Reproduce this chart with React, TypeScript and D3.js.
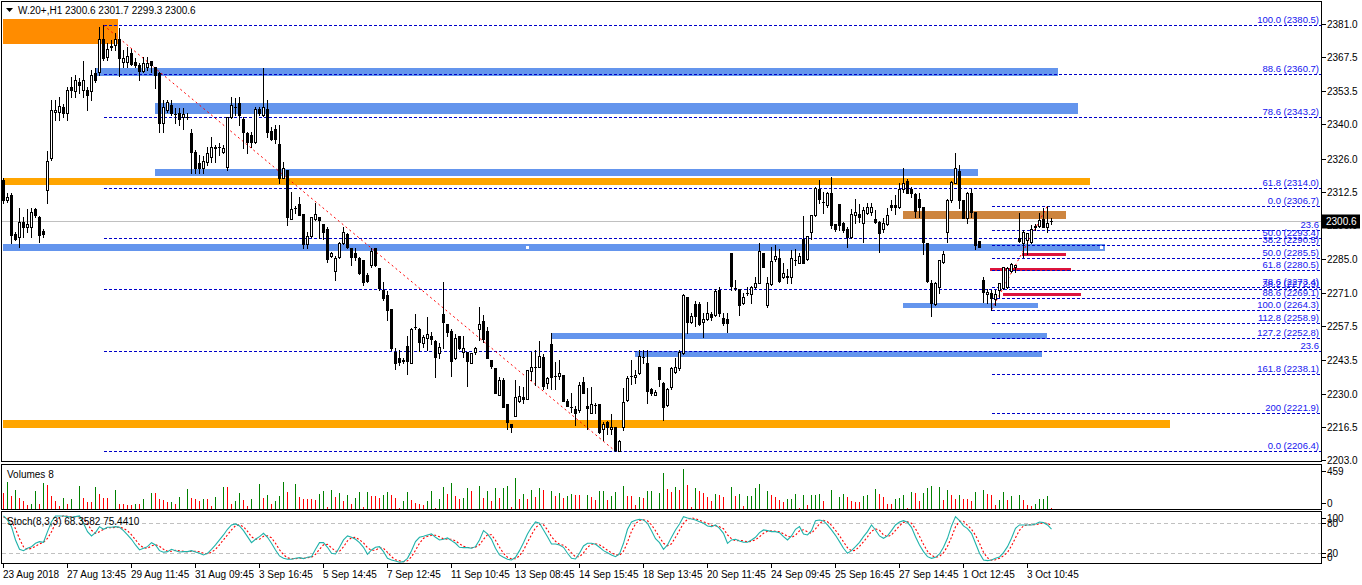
import React, { useEffect, useRef } from 'react';
import * as d3 from 'd3';

const WIDTH = 1362;
const HEIGHT = 585;

// hourly candles, [open, high, low, close]
const candles: [number, number, number, number][] = [
  [2317.2, 2318.1, 2307.8, 2309.1], [2309.1, 2311.9, 2308.2, 2310.3], [2311.1, 2311.9, 2291.5, 2294.8], [2295.2, 2296.0, 2292.7, 2293.1],
  [2294.0, 2305.8, 2289.9, 2300.1], [2300.1, 2302.1, 2294.0, 2298.0], [2298.0, 2305.4, 2296.0, 2299.3], [2298.0, 2305.8, 2294.0, 2304.2],
  [2305.4, 2305.8, 2302.1, 2302.9], [2302.1, 2302.5, 2291.9, 2294.8], [2296.4, 2297.2, 2294.0, 2295.2], [2313.1, 2329.1, 2307.8, 2325.0],
  [2326.2, 2349.9, 2325.4, 2345.8], [2345.0, 2349.9, 2341.8, 2345.8], [2345.0, 2351.2, 2341.8, 2347.5], [2347.1, 2348.3, 2343.0, 2344.6],
  [2344.6, 2355.2, 2341.8, 2354.0], [2355.2, 2359.3, 2351.2, 2354.0], [2353.6, 2360.1, 2351.2, 2358.1], [2357.3, 2358.9, 2352.8, 2356.1],
  [2354.0, 2365.9, 2351.2, 2358.1], [2354.0, 2355.2, 2345.8, 2352.0], [2353.6, 2362.2, 2349.9, 2360.1], [2361.0, 2363.0, 2357.3, 2358.1],
  [2361.4, 2379.8, 2360.1, 2374.9], [2374.9, 2380.5, 2366.3, 2367.1], [2367.5, 2373.2, 2366.3, 2370.8], [2371.6, 2374.5, 2370.4, 2372.0],
  [2372.4, 2377.3, 2370.4, 2374.9], [2374.9, 2379.4, 2359.7, 2367.1], [2365.5, 2370.4, 2363.4, 2367.1], [2365.5, 2371.6, 2363.4, 2367.9],
  [2369.1, 2370.8, 2364.2, 2364.6], [2365.5, 2367.1, 2363.4, 2364.2], [2364.2, 2365.1, 2358.1, 2361.8], [2361.8, 2367.5, 2361.4, 2365.1],
  [2363.4, 2367.5, 2362.2, 2365.1], [2365.9, 2365.9, 2361.4, 2364.2], [2363.4, 2363.4, 2354.8, 2360.1], [2361.0, 2361.4, 2336.8, 2340.5],
  [2340.5, 2349.9, 2336.8, 2347.1], [2345.8, 2349.9, 2345.0, 2349.1], [2347.9, 2349.9, 2343.8, 2344.6], [2344.2, 2346.7, 2340.5, 2344.3],
  [2344.6, 2346.7, 2339.7, 2342.2], [2343.0, 2346.7, 2338.1, 2344.2], [2343.0, 2344.6, 2342.2, 2343.1], [2336.4, 2338.1, 2320.1, 2328.7],
  [2328.7, 2329.5, 2320.1, 2322.1], [2324.2, 2327.5, 2320.1, 2322.1], [2322.1, 2327.0, 2320.1, 2325.0], [2324.6, 2330.7, 2323.4, 2328.3],
  [2326.6, 2334.8, 2324.6, 2330.7], [2330.3, 2331.5, 2324.6, 2330.7], [2330.7, 2332.4, 2327.5, 2330.6], [2328.7, 2331.5, 2328.3, 2330.3],
  [2322.5, 2343.0, 2321.3, 2343.0], [2343.0, 2351.2, 2342.6, 2347.9], [2347.1, 2350.7, 2343.8, 2347.0], [2348.7, 2351.2, 2339.7, 2343.8],
  [2342.2, 2343.0, 2330.3, 2336.8], [2336.4, 2336.8, 2328.3, 2332.8], [2335.6, 2336.8, 2330.7, 2332.8], [2332.8, 2347.1, 2332.4, 2346.3],
  [2346.3, 2347.1, 2343.8, 2344.6], [2343.8, 2363.0, 2343.4, 2347.1], [2346.3, 2349.9, 2334.8, 2336.8], [2337.3, 2338.9, 2333.6, 2334.0],
  [2338.1, 2339.7, 2332.4, 2334.0], [2331.9, 2339.7, 2316.0, 2318.0], [2318.0, 2324.6, 2318.0, 2322.1], [2321.3, 2321.3, 2298.8, 2302.1],
  [2301.3, 2312.3, 2301.3, 2305.4], [2305.8, 2306.6, 2303.7, 2305.7], [2307.4, 2310.3, 2302.9, 2302.9], [2303.3, 2303.3, 2289.4, 2291.1],
  [2291.1, 2296.0, 2289.4, 2294.4], [2294.4, 2302.1, 2294.0, 2302.1], [2301.3, 2307.8, 2300.9, 2303.3], [2302.1, 2302.1, 2293.5, 2300.9],
  [2299.3, 2299.3, 2293.1, 2296.0], [2297.2, 2298.0, 2283.7, 2284.9], [2286.2, 2287.8, 2285.8, 2287.4], [2280.0, 2286.2, 2276.4, 2285.4],
  [2285.8, 2291.9, 2285.4, 2291.5], [2291.5, 2298.0, 2291.1, 2296.0], [2295.2, 2295.6, 2289.4, 2289.9], [2289.4, 2289.4, 2282.5, 2285.8],
  [2287.4, 2289.4, 2284.5, 2285.8], [2285.4, 2285.8, 2278.8, 2279.2], [2284.5, 2284.5, 2274.3, 2275.5], [2278.4, 2279.2, 2275.5, 2275.9],
  [2282.5, 2289.4, 2281.7, 2288.2], [2289.4, 2289.4, 2282.1, 2282.5], [2281.3, 2281.3, 2272.3, 2273.1], [2272.3, 2275.5, 2268.2, 2269.0],
  [2270.2, 2271.9, 2260.0, 2264.1], [2264.5, 2264.5, 2247.8, 2248.6], [2246.9, 2248.6, 2240.0, 2242.4], [2244.5, 2247.8, 2241.6, 2242.8],
  [2243.7, 2244.5, 2242.4, 2243.3], [2249.4, 2253.5, 2238.0, 2243.3], [2242.4, 2256.7, 2242.4, 2256.3], [2257.2, 2262.5, 2256.3, 2257.1],
  [2256.3, 2256.7, 2247.3, 2251.0], [2250.6, 2253.9, 2249.0, 2253.1], [2252.7, 2261.2, 2247.8, 2254.3], [2253.5, 2255.1, 2250.2, 2252.2],
  [2251.4, 2251.8, 2236.7, 2244.9], [2246.5, 2250.6, 2244.5, 2249.0], [2262.5, 2275.5, 2248.6, 2259.2], [2258.4, 2258.4, 2253.5, 2255.1],
  [2255.5, 2256.3, 2237.1, 2243.3], [2244.5, 2254.3, 2244.1, 2252.7], [2253.5, 2253.5, 2248.2, 2248.6], [2246.9, 2253.5, 2244.9, 2248.6],
  [2246.9, 2246.9, 2233.0, 2243.3], [2242.4, 2245.7, 2242.4, 2246.5], [2246.9, 2249.0, 2246.1, 2248.6], [2256.3, 2265.3, 2251.8, 2258.4],
  [2259.6, 2262.1, 2251.0, 2252.2], [2255.5, 2257.2, 2244.5, 2244.5], [2243.7, 2243.7, 2240.4, 2241.2], [2240.4, 2240.4, 2230.2, 2230.2],
  [2229.4, 2236.7, 2229.4, 2235.5], [2235.5, 2236.3, 2224.5, 2224.5], [2225.7, 2225.7, 2215.5, 2218.3], [2217.5, 2217.5, 2214.2, 2216.3],
  [2220.8, 2235.5, 2220.8, 2228.5], [2226.9, 2233.0, 2226.5, 2228.9], [2228.5, 2232.6, 2226.1, 2227.7], [2227.7, 2239.6, 2227.7, 2239.6],
  [2239.2, 2246.9, 2235.5, 2240.8], [2240.8, 2247.8, 2233.5, 2240.7], [2240.8, 2251.4, 2240.8, 2245.3], [2244.9, 2246.1, 2231.8, 2233.0],
  [2234.3, 2236.7, 2232.2, 2236.3], [2250.2, 2254.7, 2231.8, 2236.7], [2237.1, 2242.8, 2231.8, 2237.0], [2237.1, 2243.7, 2235.9, 2238.4],
  [2237.5, 2237.5, 2226.9, 2226.9], [2226.9, 2227.7, 2224.9, 2224.9], [2224.5, 2230.2, 2222.4, 2224.4], [2223.6, 2224.9, 2217.1, 2222.0],
  [2223.2, 2234.7, 2222.4, 2233.5], [2234.7, 2236.7, 2230.2, 2230.2], [2224.9, 2232.2, 2215.5, 2224.0], [2222.0, 2232.6, 2222.0, 2225.7],
  [2225.3, 2226.1, 2222.0, 2225.2], [2225.7, 2225.7, 2213.8, 2214.2], [2215.5, 2218.3, 2211.0, 2217.5], [2218.3, 2218.7, 2213.4, 2216.3],
  [2215.5, 2221.6, 2213.4, 2216.3], [2216.3, 2216.3, 2206.6, 2206.9], [2206.5, 2211.0, 2206.4, 2210.6], [2216.3, 2232.2, 2215.1, 2226.5],
  [2227.3, 2237.1, 2226.9, 2236.3], [2237.1, 2243.7, 2233.9, 2237.0], [2236.7, 2239.6, 2234.3, 2237.5], [2238.4, 2247.8, 2238.0, 2245.3],
  [2244.9, 2247.8, 2242.4, 2244.8], [2242.4, 2247.8, 2226.1, 2231.0], [2231.8, 2232.2, 2229.4, 2230.2], [2229.4, 2231.4, 2229.4, 2230.6],
  [2240.8, 2240.8, 2233.0, 2235.9], [2234.3, 2234.7, 2219.1, 2224.5], [2225.3, 2232.2, 2224.9, 2231.8], [2232.6, 2240.8, 2231.8, 2240.4],
  [2238.8, 2244.5, 2238.4, 2240.8], [2240.4, 2247.8, 2239.6, 2246.9], [2246.5, 2270.6, 2246.1, 2270.2], [2269.4, 2269.4, 2254.7, 2259.2],
  [2259.2, 2262.9, 2258.8, 2261.6], [2266.6, 2267.8, 2257.6, 2261.6], [2266.6, 2267.4, 2258.0, 2258.4], [2259.2, 2262.9, 2253.1, 2260.4],
  [2260.4, 2267.4, 2260.0, 2262.9], [2262.5, 2263.3, 2260.0, 2261.2], [2262.1, 2272.7, 2261.6, 2271.9], [2272.3, 2273.5, 2261.6, 2262.9],
  [2260.8, 2262.9, 2258.0, 2258.8], [2260.4, 2262.9, 2255.1, 2258.8], [2287.4, 2287.4, 2272.3, 2273.9], [2273.1, 2276.4, 2272.3, 2273.0],
  [2272.7, 2272.7, 2262.1, 2266.1], [2267.0, 2271.1, 2266.6, 2269.4], [2271.1, 2273.5, 2270.2, 2271.0], [2270.6, 2273.9, 2267.0, 2273.5],
  [2273.5, 2277.6, 2273.1, 2275.1], [2275.1, 2291.5, 2275.1, 2288.2], [2287.4, 2287.4, 2281.7, 2281.7], [2266.1, 2277.6, 2265.3, 2275.1],
  [2274.7, 2289.9, 2274.3, 2284.1], [2284.9, 2290.7, 2284.1, 2286.2], [2285.4, 2289.0, 2275.5, 2275.9], [2277.6, 2283.3, 2277.2, 2279.2],
  [2278.0, 2280.8, 2275.1, 2277.6], [2277.6, 2288.6, 2275.1, 2285.4], [2284.5, 2289.0, 2282.5, 2284.4], [2283.3, 2287.4, 2283.3, 2286.2],
  [2293.1, 2302.5, 2283.3, 2283.3], [2285.0, 2294.4, 2284.5, 2294.4], [2296.0, 2302.9, 2293.1, 2302.9], [2302.9, 2314.4, 2302.5, 2314.0],
  [2313.6, 2317.2, 2307.8, 2309.5], [2308.2, 2312.3, 2303.7, 2308.1], [2307.0, 2312.3, 2306.2, 2311.9], [2311.9, 2318.5, 2297.6, 2298.8],
  [2299.3, 2299.3, 2296.4, 2297.2], [2307.4, 2307.4, 2296.8, 2298.8], [2299.7, 2300.1, 2296.0, 2296.8], [2297.2, 2298.0, 2289.9, 2294.0],
  [2294.0, 2305.4, 2293.5, 2303.3], [2302.9, 2309.5, 2299.7, 2304.2], [2303.3, 2307.4, 2300.1, 2302.1], [2299.7, 2306.2, 2291.9, 2305.0],
  [2303.7, 2307.8, 2303.3, 2306.2], [2304.2, 2307.8, 2302.9, 2306.1], [2301.3, 2305.0, 2299.7, 2300.1], [2300.1, 2300.5, 2287.8, 2295.6],
  [2297.2, 2301.7, 2296.0, 2299.7], [2299.3, 2305.8, 2298.8, 2302.9], [2307.0, 2309.1, 2305.0, 2306.2], [2307.0, 2311.1, 2303.3, 2306.1],
  [2306.2, 2316.0, 2305.8, 2313.6], [2313.6, 2322.1, 2312.3, 2316.0], [2316.8, 2317.6, 2311.9, 2311.9], [2313.6, 2314.4, 2310.3, 2311.8],
  [2311.5, 2311.9, 2302.1, 2304.6], [2309.5, 2311.9, 2302.1, 2306.2], [2306.2, 2306.2, 2287.0, 2291.9], [2291.5, 2291.5, 2275.5, 2275.9],
  [2275.1, 2276.4, 2261.6, 2267.0], [2266.6, 2275.5, 2266.2, 2275.1], [2273.5, 2284.5, 2271.1, 2284.5], [2283.7, 2288.2, 2283.3, 2287.0],
  [2296.0, 2309.5, 2291.9, 2309.1], [2309.1, 2316.8, 2308.2, 2316.4], [2316.0, 2328.3, 2316.0, 2322.1], [2320.9, 2323.4, 2305.8, 2309.1],
  [2309.1, 2309.1, 2301.7, 2301.7], [2301.7, 2312.3, 2299.7, 2311.9], [2311.9, 2313.6, 2302.1, 2304.2], [2304.2, 2304.2, 2289.0, 2290.7],
  [2292.3, 2292.3, 2289.9, 2289.9], [2276.4, 2277.6, 2267.4, 2271.5], [2270.6, 2272.7, 2267.0, 2271.4], [2271.1, 2272.3, 2264.3, 2269.0],
  [2268.6, 2272.3, 2266.2, 2270.6], [2272.3, 2275.1, 2269.4, 2275.1], [2273.1, 2281.7, 2272.7, 2281.7], [2273.5, 2281.7, 2273.1, 2281.3],
  [2280.0, 2283.3, 2279.6, 2282.9], [2281.7, 2282.5, 2279.6, 2282.5], [2293.5, 2303.7, 2291.9, 2292.3], [2291.5, 2296.8, 2285.8, 2296.0],
  [2292.7, 2295.6, 2287.0, 2295.5], [2291.9, 2298.8, 2291.5, 2297.2], [2298.0, 2299.3, 2296.8, 2298.4], [2298.4, 2303.7, 2298.0, 2300.9],
  [2301.3, 2305.8, 2298.0, 2298.0], [2298.0, 2306.7, 2296.0, 2299.7], [2300.6, 2301.7, 2299.3, 2300.6],
];

const volumes = [
  181, 314, 149, 216, 130, 90, 51, 63, 208, 59, 299, 279, 149, 90, 39, 122, 63, 110, 4, 267,
  130, 83, 79, 255, 169, 130, 130, 4, 216, 63, 63, 51, 51, 63, 63, 110, 4, 181, 181, 118,
  98, 79, 83, 63, 141, 4, 228, 122, 114, 90, 110, 110, 39, 138, 4, 255, 248, 63, 90, 181,
  98, 31, 110, 4, 287, 130, 157, 59, 90, 149, 314, 200, 4, 287, 138, 118, 110, 110, 106, 169,
  208, 24, 220, 141, 181, 90, 157, 63, 130, 200, 20, 200, 149, 149, 130, 157, 197, 161, 130, 12,
  90, 197, 102, 71, 63, 51, 90, 208, 12, 120,
  255, 169, 299, 149, 118, 122, 240, 208, 4, 263, 130, 208, 90, 236, 122, 236, 263, 20, 358, 110,
  177, 110, 216, 138, 240, 216, 4, 208, 149, 181, 122, 149, 169, 165, 157, 4, 161, 138, 98, 208,
  212, 102, 149, 200, 4, 267, 149, 145, 51, 138, 130, 208, 212, 4, 181, 417, 228, 200, 255, 216,
  459, 275, 24, 240, 208, 181, 141, 90, 169, 161, 141, 4, 255, 149, 177, 39, 149, 153, 240, 287,
  4, 208, 161, 138, 102, 79, 110, 120, 169, 12, 161, 51, 157, 165, 175, 90, 4, 216, 4, 138,
  169, 141, 90, 79, 75, 149, 157, 4, 228, 169,
  138, 63, 60, 110, 130, 157, 12, 200, 181, 90, 181, 236, 267, 4, 255, 100, 216, 161, 118, 161,
  118, 110, 90, 197, 4, 220, 169, 161, 51, 98, 193, 98, 149, 4, 157, 102, 43, 31, 59, 110,
  112, 149, 8,
];

// Stoch(8,3,3): main line and signal line
const stochMain = [
  94.7, 86.7, 73.3, 46.7, 28, 25.3, 30, 33.3, 40, 43.3, 42, 63.3, 83.3, 94.7, 94.7, 94.7, 93.3, 92, 93.3, 94.7,
  80, 63.3, 54.7, 61.3, 73.3, 68, 72, 72, 73.3, 72, 65.3, 56.7, 48, 36.7, 26.7, 30, 33.3, 41.3, 36.7, 25.3,
  22, 23.3, 28, 25.3, 22.7, 23.3, 23.3, 25.3, 22.7, 20, 16.7, 20, 28, 36.7, 46.7, 56.7, 68, 76.7, 78.7, 74.7,
  65.3, 53.3, 41.3, 48, 53.3, 60, 52, 40, 26.7, 14.7, 10, 8, 8, 10, 11.3, 9.3, 12, 13.3, 28, 41.3,
  41.3, 32, 20, 18.7, 32, 46.7, 54.7, 52, 48, 41.3, 32, 18, 26.7, 32, 33.3, 23.3, 10, 6.7, 4.7, 2,
  3.3, 10, 25.3, 43.3, 52, 54, 56.7, 58.7, 52, 46.7, 48, 50.7, 45.3, 40, 32, 31.3, 31.3, 30, 33.3, 46.7,
  65.3, 58.7, 48, 30, 16.7, 12, 8, 6.7, 12, 25.3, 41.3, 58.7, 72, 82.7, 80, 66.7, 53.3, 38.7, 38.7, 36.7,
  32, 20, 10, 8.7, 20, 34.7, 40, 40, 38, 32, 25.3, 21.3, 16.7, 13.3, 18.7, 40, 68, 82.7, 86, 88,
  86.7, 80, 65.3, 49.3, 41.3, 28, 36.7, 52, 66.7, 78.7, 93.3, 90.7, 88.7, 86.7, 83.3, 80, 74.7, 73.3, 76.7, 70,
  60, 40, 46.7, 48, 44.7, 42, 42, 46.7, 52, 61.3, 66.7, 65.3, 63.3, 63.3, 61.3, 53.3, 46.7, 54.7, 68, 73.3,
  58.7, 56.7, 65.3, 85.3, 86.7, 84.7, 76.7, 66.7, 56, 43.3, 30, 20, 25.3, 33.3, 42, 53.3, 63.3, 76.7, 66.7, 54.7,
  50, 54.7, 65.3, 76.7, 82.7, 85.3, 82, 72, 53.3, 36.7, 23.3, 13.3, 10, 12, 18.7, 32, 50, 74.7, 93.3, 85.3,
  74.7, 69.3, 60, 40, 20, 6.7, 5.3, 6.7, 10, 12.7, 21.3, 33.3, 50, 70, 76.7, 76.7, 76.7, 76.7, 78.7, 82.7,
  81.3, 76.7, 68.4,
];

const stochSignal = [
  92, 90, 85, 69, 49, 33, 28, 30, 34, 39, 42, 50, 63, 80, 91, 95, 94, 93, 93, 93,
  89, 79, 66, 60, 63, 68, 71, 71, 72, 72, 70, 65, 57, 47, 37, 31, 30, 35, 37, 34,
  28, 24, 24, 26, 25, 24, 23, 24, 24, 23, 20, 19, 22, 28, 37, 47, 57, 67, 75, 77,
  73, 64, 53, 48, 48, 54, 55, 51, 40, 27, 17, 11, 9, 9, 10, 10, 11, 12, 18, 28,
  37, 38, 31, 24, 24, 33, 45, 51, 52, 47, 41, 31, 26, 26, 31, 30, 22, 13, 7, 5,
  3, 5, 13, 26, 40, 50, 54, 56, 56, 53, 49, 48, 48, 45, 39, 34, 32, 31, 32, 37,
  48, 57, 57, 46, 32, 20, 12, 9, 9, 15, 26, 42, 57, 71, 78, 77, 67, 53, 44, 38,
  36, 30, 21, 13, 13, 21, 32, 38, 39, 37, 32, 26, 21, 17, 16, 24, 42, 64, 79, 86,
  87, 85, 77, 65, 52, 40, 35, 39, 52, 66, 80, 88, 91, 89, 86, 83, 80, 76, 75, 73,
  69, 57, 49, 45, 46, 45, 43, 44, 47, 53, 60, 64, 65, 64, 63, 59, 54, 52, 56, 65,
  67, 63, 60, 69, 79, 86, 83, 76, 66, 55, 43, 31, 25, 26, 34, 43, 53, 64, 69, 66,
  57, 53, 57, 66, 75, 82, 83, 80, 69, 54, 38, 24, 16, 12, 14, 21, 34, 52, 73, 84,
  84, 76, 68, 56, 40, 22, 11, 6, 7, 10, 15, 22, 35, 51, 66, 75, 77, 77, 77, 79,
  81, 80, 75.4,
];

const priceTicks = [2381.0, 2367.5, 2353.5, 2340.0, 2326.0, 2312.5, 2299.0, 2285.0, 2271.0, 2257.5, 2243.5, 2230.0, 2216.5, 2203.0];
const dateBars = [0, 16, 32, 48, 64, 80, 96, 112, 128, 144, 160, 176, 192, 208, 224, 240, 256];
const dateLabels = [
  '23 Aug 2018', '27 Aug 13:45', '29 Aug 11:45', '31 Aug 09:45', '3 Sep 16:45', '5 Sep 14:45', '7 Sep 12:45',
  '11 Sep 10:45', '13 Sep 08:45', '14 Sep 15:45', '18 Sep 13:45', '20 Sep 11:45', '24 Sep 09:45', '25 Sep 16:45',
  '27 Sep 14:45', '1 Oct 12:45', '3 Oct 10:45',
];

// fibonacci on the whole fall, then on the last swing up
const fibLongAnchor: [number, number][] = [[25, 2380.5], [153, 2206.4]];
const fibLongPrices = [2380.5, 2360.7, 2343.2, 2314.0, 2293.4, 2272.9, 2247.5, 2206.4];
const fibLongLabels = ['100.0 (2380.5)', '88.6 (2360.7)', '78.6 (2343.2)', '61.8 (2314.0)', '50.0 (2293.4)', '38.2 (2272.9)', '23.6', '0.0 (2206.4)'];
const fibShortAnchor: [number, number][] = [[247, 2264.3], [261, 2306.7]];
const fibShortPrices = [2306.7, 2296.7, 2290.5, 2285.5, 2280.5, 2273.4, 2269.1, 2264.3, 2258.9, 2252.8, 2238.1, 2221.9];
const fibShortLabels = ['0.0 (2306.7)', '23.6', '38.2 (2290.5)', '50.0 (2285.5)', '61.8 (2280.5)', '78.6 (2273.4)', '88.6 (2269.1)', '100.0 (2264.3)', '112.8 (2258.9)', '127.2 (2252.8)', '161.8 (2238.1)', '200 (2221.9)'];

// drawn zones: bar from, bar to, upper price, lower price, kind
const zoneFrom = [-0.1, 22.9, 37.9, 37.9, -0.1, -0.1, 224.9, 254.6, 246.6, 249.9, 224.9, 136.9, 157.9, -0.1];
const zoneTo = [28.6, 263.6, 268.6, 243.6, 271.6, 275.4, 265.6, 265.6, 266.9, 269.4, 258.6, 260.9, 259.6, 291.6];
const zoneHigh = [2383.0, 2363.0, 2348.7, 2321.7, 2318.1, 2291.1, 2304.6, 2287.4, 2281.3, 2271.1, 2267.0, 2254.7, 2247.3, 2219.1];
const zoneLow = [2372.8, 2359.7, 2344.2, 2318.9, 2315.2, 2288.2, 2301.3, 2286.2, 2280.0, 2269.8, 2264.9, 2252.3, 2244.9, 2215.9];
const zoneKind = ['peak', 'level', 'level', 'level', 'major', 'level', 'range', 'target', 'target', 'target', 'level', 'level', 'level', 'major'];
const zoneColor: Record<string, string> = {
  peak: '#FF8C00', level: '#6495ED', major: '#FFA500', range: '#CD853F', target: '#DC143C',
};
const handleBars = [131.1, 274.6];
const handlePrice = 2289.65;

const lastPrice = 2300.6;
const header = 'W.20+,H1  2300.6 2301.7 2299.3 2300.6';
const volumeLabel = 'Volumes 8';
const stochLabel = 'Stoch(8,3,3) 68.3582 75.4410';

const FONT = '"Liberation Sans", Arial, sans-serif';

export default function App() {
  const svgRef = useRef<SVGSVGElement>(null);

  useEffect(() => {
    if (!svgRef.current) return;
    const svg = d3.select(svgRef.current);
    svg.selectAll('*').remove();

    const left = 1.5, right = 1321.5;
    const main = { top: 1.5, bottom: 461.5 };
    const vol = { top: 464.5, bottom: 509.5 };
    const sto = { top: 511.5, bottom: 563.5 };

    const x = d3.scaleLinear().domain([0, candles.length - 1]).range([3.5, 3.5 + 4 * (candles.length - 1)]);
    const y = d3.scaleLinear().domain([2203.0, 2381.0]).range([459.6, 24]);
    const yv = d3.scaleLinear().domain([0, 459]).range([509, 469]);
    const ys = d3.scaleLinear().domain([0, 100]).range([563.3, 513.3]);

    svg.append('rect').attr('width', WIDTH).attr('height', HEIGHT).attr('fill', '#ffffff');

    const defs = svg.append('defs');
    defs.append('clipPath').attr('id', 'mainClip')
      .append('rect').attr('x', left).attr('y', main.top).attr('width', right - left).attr('height', main.bottom - main.top);

    const g = svg.append('g').attr('clip-path', 'url(#mainClip)').attr('shape-rendering', 'crispEdges');

    // zones
    g.selectAll('rect.zone')
      .data(zoneKind)
      .enter()
      .append('rect')
      .attr('x', (_, i) => x(zoneFrom[i]))
      .attr('width', (_, i) => x(zoneTo[i]) - x(zoneFrom[i]))
      .attr('y', (_, i) => y(zoneHigh[i]))
      .attr('height', (_, i) => y(zoneLow[i]) - y(zoneHigh[i]))
      .attr('fill', d => zoneColor[d]);

    handleBars.forEach(b => {
      g.append('rect')
        .attr('x', x(b) - 2).attr('y', y(handlePrice) - 2)
        .attr('width', 4).attr('height', 4)
        .attr('fill', '#ffffff').attr('stroke', '#6495ED').attr('stroke-width', 1);
    });

    // bid line
    g.append('line')
      .attr('x1', left).attr('x2', right)
      .attr('y1', Math.round(y(lastPrice)) + 0.5).attr('y2', Math.round(y(lastPrice)) + 0.5)
      .attr('stroke', '#C0C0C0');

    // fibo levels
    const drawFib = (anchor: [number, number][], prices: number[], labels: string[]) => {
      prices.forEach((p, k) => {
        const yy = Math.round(y(p)) + 0.5;
        g.append('line')
          .attr('x1', x(anchor[0][0])).attr('x2', right)
          .attr('y1', yy).attr('y2', yy)
          .attr('stroke', '#0000C8')
          .attr('stroke-dasharray', '3,2');
        svg.append('text')
          .attr('x', 1319).attr('y', yy - 2.5)
          .attr('text-anchor', 'end')
          .style('font-family', FONT).style('font-size', '9.5px')
          .attr('fill', '#1414f0')
          .text(labels[k]);
      });
      g.append('line')
        .attr('x1', x(anchor[0][0])).attr('y1', y(anchor[0][1]))
        .attr('x2', x(anchor[1][0])).attr('y2', y(anchor[1][1]))
        .attr('stroke', '#FF0000')
        .attr('stroke-dasharray', '2,3')
        .attr('shape-rendering', 'auto');
    };
    drawFib(fibLongAnchor, fibLongPrices, fibLongLabels);
    drawFib(fibShortAnchor, fibShortPrices, fibShortLabels);

    // candles
    const c = g.append('g');
    candles.forEach(([o, h, l, cl], i) => {
      const cx = x(i);
      c.append('line')
        .attr('x1', cx).attr('x2', cx)
        .attr('y1', Math.round(y(h))).attr('y2', Math.round(y(l)) + 1)
        .attr('stroke', '#000');
      const top = Math.round(Math.min(y(o), y(cl)));
      const bot = Math.round(Math.max(y(o), y(cl)));
      if (bot - top < 1) {
        c.append('line')
          .attr('x1', cx - 1.5).attr('x2', cx + 1.5)
          .attr('y1', top + 0.5).attr('y2', top + 0.5)
          .attr('stroke', '#000');
      } else {
        c.append('rect')
          .attr('x', cx - 1).attr('y', top + 0.5)
          .attr('width', 2).attr('height', bot - top)
          .attr('fill', cl >= o ? '#ffffff' : '#000000')
          .attr('stroke', '#000');
      }
    });

    // volumes
    svg.append('g').attr('shape-rendering', 'crispEdges')
      .selectAll('line')
      .data(volumes)
      .enter()
      .append('line')
      .attr('x1', (_, i) => x(i)).attr('x2', (_, i) => x(i))
      .attr('y1', yv(0)).attr('y2', d => yv(d))
      .attr('stroke', (d, i) => (i > 0 && d > volumes[i - 1] ? '#008000' : '#FF0000'));

    // stochastic
    svg.append('g').attr('shape-rendering', 'crispEdges')
      .selectAll('line')
      .data([80, 20])
      .enter()
      .append('line')
      .attr('x1', left).attr('x2', right)
      .attr('y1', d => Math.round(ys(d)) + 0.5).attr('y2', d => Math.round(ys(d)) + 0.5)
      .attr('stroke', '#C0C0C0')
      .attr('stroke-dasharray', '4,3');

    const line = d3.line<number>().x((_, i) => x(i)).y(d => ys(d));
    svg.append('path').datum(stochSignal)
      .attr('d', line).attr('fill', 'none')
      .attr('stroke', '#FF0000').attr('stroke-width', 1.1).attr('stroke-dasharray', '2,2');
    svg.append('path').datum(stochMain)
      .attr('d', line).attr('fill', 'none')
      .attr('stroke', '#20B2AA').attr('stroke-width', 1.1);

    // panel frames
    const frames = svg.append('g').attr('shape-rendering', 'crispEdges').attr('fill', 'none').attr('stroke', '#000');
    [main, vol, sto].forEach(p => {
      frames.append('rect').attr('x', left).attr('y', p.top).attr('width', right - left).attr('height', p.bottom - p.top);
    });

    // right axis
    const axisText = (xx: number, yy: number, t: string, fill = '#000') =>
      svg.append('text')
        .attr('x', xx).attr('y', yy).attr('dy', '0.35em')
        .style('font-family', FONT).style('font-size', '10px')
        .attr('fill', fill)
        .text(t);

    priceTicks.forEach(p => {
      const yy = Math.round(y(p)) + 0.5;
      frames.append('line').attr('x1', right).attr('x2', right + 4).attr('y1', yy).attr('y2', yy);
      axisText(1327, yy, p.toFixed(1));
    });

    const clampIn = (v: number, p: { top: number; bottom: number }) => Math.min(Math.max(v, p.top + 7), p.bottom - 6);
    [459, 0].forEach(v => {
      const yy = clampIn(yv(v), vol);
      frames.append('line').attr('x1', right).attr('x2', right + 4).attr('y1', yy).attr('y2', yy);
      axisText(1327, yy, String(v));
    });
    [100, 80, 20, 0].forEach(v => {
      const yy = clampIn(ys(v), sto);
      frames.append('line').attr('x1', right).attr('x2', right + 4).attr('y1', yy).attr('y2', yy);
      axisText(1327, yy, String(v));
    });

    // current price marker
    const py = Math.round(y(lastPrice)) + 0.5;
    svg.append('rect').attr('x', 1322).attr('y', py - 7).attr('width', 38).attr('height', 14).attr('fill', '#000');
    axisText(1326, py, lastPrice.toFixed(1), '#fff');

    // time axis
    dateBars.forEach((b, k) => {
      frames.append('line').attr('x1', x(b)).attr('x2', x(b)).attr('y1', sto.bottom).attr('y2', sto.bottom + 4);
      axisText(x(b) - 0.5, 574, dateLabels[k]);
    });

    // titles
    svg.append('path').attr('d', 'M6,8 L13,8 L9.5,12 Z').attr('fill', '#000');
    axisText(18, 10.5, header);
    axisText(7, 474, volumeLabel);
    axisText(7, 521, stochLabel);
  }, []);

  return (
    <svg
      ref={svgRef}
      width={WIDTH}
      height={HEIGHT}
      style={{ position: 'absolute', left: 0, top: 0, display: 'block' }}
    ></svg>
  );
}
